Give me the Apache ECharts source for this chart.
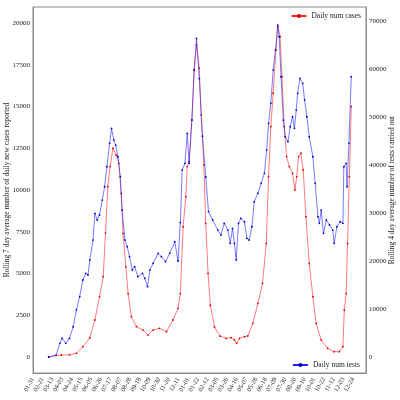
<!DOCTYPE html>
<html>
<head>
<meta charset="utf-8">
<script src="https://cdn.jsdelivr.net/npm/echarts@6/dist/echarts.min.js"></script>
<style>
    html, body { margin: 0; padding: 0; background: #fff; }
    #main { width: 400px; height: 400px; }
</style>
</head>
<body>
<div id="main"></div>
<script>
// rolling 7 day average of new cases (left axis)
var caseDates = [
    '2020-03-05', '2020-04-01', '2020-04-19', '2020-05-04', '2020-05-18', '2020-06-02', '2020-06-13',
    '2020-06-23', '2020-07-01', '2020-07-06', '2020-07-11', '2020-07-16', '2020-07-22', '2020-07-29',
    '2020-08-04', '2020-08-09', '2020-08-13', '2020-08-19', '2020-08-24', '2020-08-31', '2020-09-11',
    '2020-09-25', '2020-10-06', '2020-10-17', '2020-10-31', '2020-11-15', '2020-11-29', '2020-12-10',
    '2020-12-15', '2020-12-21', '2020-12-27', '2020-12-30', '2021-01-03', '2021-01-09', '2021-01-14',
    '2021-01-19', '2021-01-25', '2021-01-29', '2021-02-04', '2021-02-08', '2021-02-13', '2021-02-18',
    '2021-02-27', '2021-03-11', '2021-03-24', '2021-04-04', '2021-04-11', '2021-04-16', '2021-04-22',
    '2021-05-03', '2021-05-10', '2021-05-21', '2021-06-01', '2021-06-11', '2021-06-19', '2021-06-24',
    '2021-06-29', '2021-07-04', '2021-07-10', '2021-07-14', '2021-07-19', '2021-07-23', '2021-07-28',
    '2021-08-02', '2021-08-08', '2021-08-15', '2021-08-20', '2021-08-24', '2021-08-28', '2021-09-02',
    '2021-09-07', '2021-09-13', '2021-09-20', '2021-09-28', '2021-10-05', '2021-10-16', '2021-10-30',
    '2021-11-13', '2021-11-24', '2021-12-02', '2021-12-05', '2021-12-09', '2021-12-12', '2021-12-16',
    '2021-12-20'
];
var caseValues = [
    0, 120, 130, 220, 620, 1140, 2215,
    3610, 4810, 7420, 10200, 11400, 12500, 12100,
    11600, 9800, 7400, 5400, 3800, 2410, 1815,
    1615, 1315, 1615, 1715, 1515, 2215, 2915,
    3800, 7800, 9600, 11400, 11700, 14200, 17200,
    18700, 17300, 14500, 11500, 8000, 5000, 3100,
    1800, 1250, 1115, 1160, 1020, 820, 1115,
    1215, 1260, 2015, 3215, 4410, 6800, 10800,
    13800, 15800, 18380, 19780, 19180, 16780, 13800,
    12000, 11400, 11000, 10000, 10800, 12000, 12200,
    11200, 8400, 5600, 3610, 2015, 1020, 520,
    320, 320, 620, 2815, 3800, 6800, 10800,
    15000
];

// rolling average of tests carried out (right axis)
var testDates = [
    '2020-03-05', '2020-03-21', '2020-03-29', '2020-04-03', '2020-04-11', '2020-04-19', '2020-04-27',
    '2020-05-04', '2020-05-11', '2020-05-18', '2020-05-24', '2020-05-29', '2020-06-02', '2020-06-09',
    '2020-06-13', '2020-06-18', '2020-06-23', '2020-06-29', '2020-07-04', '2020-07-09', '2020-07-15',
    '2020-07-19', '2020-07-24', '2020-07-28', '2020-08-02', '2020-08-07', '2020-08-11', '2020-08-17',
    '2020-08-22', '2020-08-27', '2020-09-02', '2020-09-07', '2020-09-14', '2020-09-24', '2020-09-29',
    '2020-10-05', '2020-10-10', '2020-10-17', '2020-10-28', '2020-11-04', '2020-11-13', '2020-11-22',
    '2020-12-03', '2020-12-10', '2020-12-15', '2020-12-19', '2020-12-25', '2020-12-30', '2021-01-03',
    '2021-01-09', '2021-01-14', '2021-01-19', '2021-01-25', '2021-02-01', '2021-02-08', '2021-02-14',
    '2021-02-23', '2021-03-06', '2021-03-13', '2021-03-20', '2021-03-28', '2021-04-02', '2021-04-07',
    '2021-04-11', '2021-04-15', '2021-04-20', '2021-04-25', '2021-05-03', '2021-05-08', '2021-05-13',
    '2021-05-19', '2021-05-24', '2021-06-01', '2021-06-08', '2021-06-15', '2021-06-20', '2021-06-24',
    '2021-06-29', '2021-07-04', '2021-07-09', '2021-07-14', '2021-07-17', '2021-07-21', '2021-07-26',
    '2021-07-30', '2021-08-05', '2021-08-10', '2021-08-15', '2021-08-19', '2021-08-23', '2021-08-26',
    '2021-08-31', '2021-09-06', '2021-09-10', '2021-09-15', '2021-09-20', '2021-09-28', '2021-10-03',
    '2021-10-09', '2021-10-12', '2021-10-16', '2021-10-21', '2021-10-27', '2021-11-03', '2021-11-10',
    '2021-11-13', '2021-11-19', '2021-11-26', '2021-12-02', '2021-12-04', '2021-12-09', '2021-12-11',
    '2021-12-15', '2021-12-20'
];
var testValues = [
    0, 400, 2850, 3900, 2850, 3900, 6300,
    9800, 12560, 16040, 17430, 17080, 20200, 24370,
    29930, 28540, 29580, 32700, 35470, 39640, 44510,
    47640, 45200, 44160, 41720, 37560, 30620, 24370,
    22980, 20900, 18120, 18810, 16730, 17430, 16390,
    14650, 18120, 19510, 21600, 20900, 19850, 21600,
    24020, 20000, 28000, 38950, 40350, 46600, 40350,
    49370, 59780, 66390, 58000, 46000, 37500, 30300,
    28540, 26450, 25410, 27850, 26450, 23680, 26810,
    23680, 20200, 27850, 28890, 28180, 24720, 24370,
    27140, 32350, 34100, 36180, 38270, 43120, 48680,
    52850, 59780, 63950, 69150, 66720, 58390, 49370,
    45890, 44850, 47970, 50050, 47640, 51450, 54930,
    58050, 57010, 53530, 50050, 45890, 41720, 36180,
    29230, 27850, 30620, 25770, 28540, 27500, 26450,
    23680, 27140, 28180, 27850, 39640, 40350, 35470,
    44510, 58390
];

// tick labels
var dateTicks = [
    '2020-01-31', '2020-02-21', '2020-03-13', '2020-04-03', '2020-04-24', '2020-05-15', '2020-06-05',
    '2020-06-26', '2020-07-17', '2020-08-07', '2020-08-28', '2020-09-18', '2020-10-09', '2020-10-30',
    '2020-11-20', '2020-12-11', '2021-01-01', '2021-01-22', '2021-02-12', '2021-03-05', '2021-03-26',
    '2021-04-16', '2021-05-07', '2021-05-28', '2021-06-18', '2021-07-09', '2021-07-30', '2021-08-20',
    '2021-09-10', '2021-10-01', '2021-10-22', '2021-11-12', '2021-12-03', '2021-12-24'
];
var caseTicks = [0, 2500, 5000, 7500, 10000, 12500, 15000, 17500, 20000];
var testTicks = [0, 10000, 20000, 30000, 40000, 50000, 60000, 70000];

var FONT = 'Liberation Serif';
var TEXT = '#222';

function pad(n) {
    return (n < 10 ? '0' : '') + n;
}

// 'YYYY-MM-DD' -> UTC timestamp
function ts(s) {
    var p = s.split('-');
    return Date.UTC(+p[0], +p[1] - 1, +p[2]);
}

function toPairs(dates, values) {
    var out = [];
    for (var i = 0; i < dates.length; i++) {
        out.push([ts(dates[i]), values[i]]);
    }
    return out;
}

function plain(v) {
    return String(v);
}

var frameLine = {show: true, onZero: false, lineStyle: {color: '#8a8a8a', width: 1}};

var option = {
    animation: false,
    backgroundColor: '#fff',
    grid: {
        left: 33, right: 34, top: 7, bottom: 27,
        outerBoundsMode: 'none',
        containLabel: false,
        show: true,
        borderColor: '#8a8a8a',
        borderWidth: 1
    },
    legend: [
        {
            data: ['Daily num cases'],
            right: 34, top: 7,
            itemWidth: 15, itemHeight: 5, itemGap: 4,
            textStyle: {fontFamily: FONT, fontSize: 7.5, color: TEXT}
        },
        {
            data: ['Daily num tests'],
            right: 35, bottom: 26,
            itemWidth: 15, itemHeight: 5, itemGap: 4,
            textStyle: {fontFamily: FONT, fontSize: 7.5, color: TEXT}
        }
    ],
    xAxis: {
        type: 'value',
        min: ts('2020-01-31'),
        max: ts('2022-01-21'),
        axisLine: frameLine,
        axisTick: {show: false},
        splitLine: {show: false},
        axisLabel: {
            customValues: dateTicks.map(ts),
            rotate: 60,
            margin: 5,
            fontFamily: FONT,
            fontSize: 6.5,
            color: TEXT,
            formatter: function (v) {
                var d = new Date(v);
                return pad(d.getUTCMonth() + 1) + '-' + pad(d.getUTCDate());
            }
        }
    },
    yAxis: [
        {
            type: 'value',
            min: -958,
            max: 20958,
            name: 'Rolling 7 day average number of daily new cases reported',
            nameLocation: 'middle',
            nameRotate: 90,
            nameGap: 22,
            nameMoveOverlap: false,
            nameTextStyle: {fontFamily: FONT, fontSize: 7.5, color: TEXT},
            axisLine: frameLine,
            axisTick: {show: false},
            splitLine: {show: false},
            axisLabel: {
                customValues: caseTicks,
                formatter: plain,
                margin: 3,
                fontFamily: FONT,
                fontSize: 7,
                color: TEXT
            }
        },
        {
            type: 'value',
            position: 'right',
            min: -3333,
            max: 72917,
            name: 'Rolling 4 day average number of tests carried out',
            nameLocation: 'middle',
            nameRotate: 90,
            nameGap: 22,
            nameMoveOverlap: false,
            nameTextStyle: {fontFamily: FONT, fontSize: 7.5, color: TEXT},
            axisLine: frameLine,
            axisTick: {show: false},
            splitLine: {show: false},
            axisLabel: {
                customValues: testTicks,
                formatter: plain,
                margin: 3,
                fontFamily: FONT,
                fontSize: 7,
                color: TEXT
            }
        }
    ],
    series: [
        {
            name: 'Daily num cases',
            type: 'line',
            yAxisIndex: 0,
            data: toPairs(caseDates, caseValues),
            symbol: 'circle',
            symbolSize: 1.8,
            showSymbol: true,
            lineStyle: {color: '#ff2020', width: 0.6},
            itemStyle: {color: '#dd0000'},
            z: 2
        },
        {
            name: 'Daily num tests',
            type: 'line',
            yAxisIndex: 1,
            data: toPairs(testDates, testValues),
            symbol: 'circle',
            symbolSize: 1.8,
            showSymbol: true,
            lineStyle: {color: '#2020ff', width: 0.6},
            itemStyle: {color: '#0000c0'},
            z: 3
        }
    ]
};

var myChart = echarts.init(document.getElementById('main'));
myChart.setOption(option);
</script>
</body>
</html>
